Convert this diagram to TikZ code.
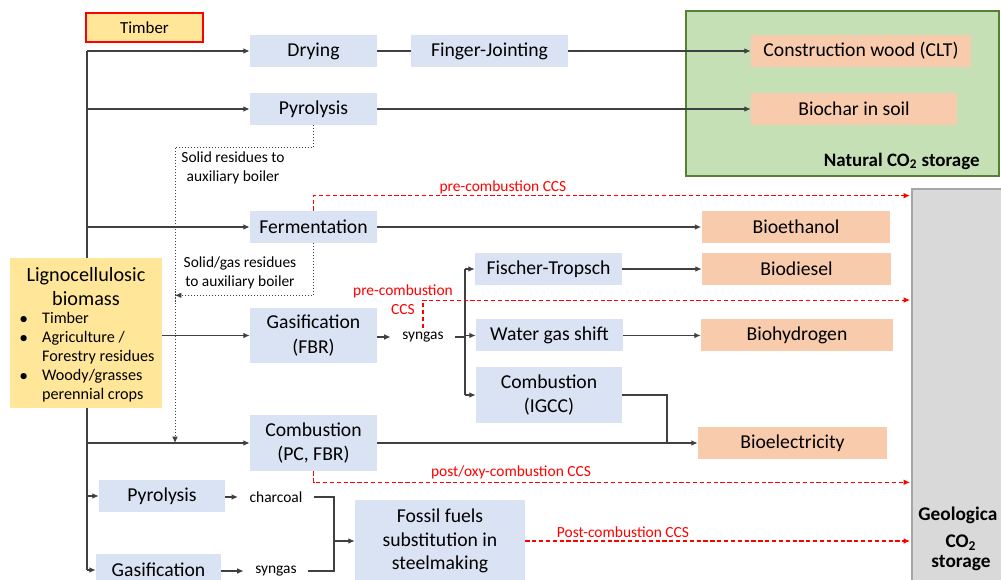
\documentclass[tikz,border=0pt]{standalone}
\usepackage{fontspec}
\setmainfont{Carlito}
\usetikzlibrary{arrows.meta, positioning}

\definecolor{procblue}{HTML}{DAE3F3}
\definecolor{prodorange}{HTML}{F8CBAD}
\definecolor{bioyellow}{HTML}{FFE699}
\definecolor{natgreen}{HTML}{C5E0B4}
\definecolor{natborder}{HTML}{548235}
\definecolor{geogray}{HTML}{D9D9D9}
\definecolor{geoborder}{HTML}{A6A6A6}
\definecolor{linegray}{HTML}{404040}

\newcommand{\lbul}{{\fontsize{10}{10.8}\selectfont\raisebox{-0.3pt}{•}}}

\begin{document}
\begin{tikzpicture}[
    x=0.02cm, y=-0.02cm,
    proc/.style={fill=procblue, inner sep=0pt, minimum height=0.64cm, align=center, font=\fontsize{11.2}{14}\selectfont},
    prod/.style={fill=prodorange, inner sep=0pt, minimum height=0.64cm, minimum width=3.78cm, font=\fontsize{11.2}{14}\selectfont},
    small/.style={font=\fontsize{8.8}{10.8}\selectfont, align=center, inner sep=0pt},
    inter/.style={font=\fontsize{8.8}{10.8}\selectfont, inner xsep=6.5pt, inner ysep=2pt},
    ccslabel/.style={font=\fontsize{8.8}{10.8}\selectfont, text=red, align=center, inner sep=0pt},
    flow/.style={draw=linegray, line width=0.6pt},
    arr/.style={flow, -{Latex[length=3.6pt,width=3.2pt]}},
    resid/.style={draw=linegray, line width=0.5pt, dash pattern=on 0.6pt off 1.1pt, -{Latex[length=3.6pt,width=3.2pt]}},
    ccs/.style={draw=red, line width=0.6pt, dash pattern=on 2.4pt off 1.5pt, -{Latex[length=3.6pt,width=3.2pt]}}
]

\useasboundingbox (0,0) rectangle (1001,580);
\clip (0,0) rectangle (1001,580);

% storage areas
\fill[natgreen] (686,11) rectangle (999,176);
\draw[natborder, line width=0.8pt] (686,11) rectangle (999,176);
\node[anchor=east, inner sep=0pt, font=\bfseries\fontsize{10.8}{13}\selectfont] (natlabel) at (980,161) {Natural CO\textsubscript{2} storage};

\fill[geogray] (912,189) rectangle (1001,580);
\draw[geoborder, line width=1pt] (912,580) -- (912,189) -- (1001,189);
\node[anchor=west, inner sep=0pt, font=\bfseries\fontsize{11}{13}\selectfont] (geolabel) at (918,515) {Geologica};
\node[align=center, inner sep=0pt, font=\bfseries\fontsize{11}{11.5}\selectfont] (geolabelb) at (961,553) {CO\textsubscript{2}\\storage};

\node[fill=bioyellow, draw=red, line width=0.6pt, minimum width=2.34cm, minimum height=0.58cm, inner sep=0pt, font=\fontsize{9.6}{11}\selectfont] (timber) at (144.5,27.5) {Timber};

\node[proc, minimum width=2.54cm] (drying) at (313.5,51) {Drying};
\node[proc, minimum width=3.14cm] (finger) at (489.5,51) {Finger-Jointing};
\node[prod, minimum width=4.4cm] (clt) at (861,51) {Construction wood (CLT)};
\node[proc, minimum width=2.54cm] (pyro) at (313.5,109) {Pyrolysis};
\node[prod, minimum width=4.12cm] (biochar) at (854,109) {Biochar in soil};

\node[proc, minimum width=2.54cm] (ferm) at (313.5,227) {Fermentation};
\node[prod] (bioeth) at (796,227) {Bioethanol};

\node[fill=bioyellow, minimum width=3.04cm, minimum height=3cm] (ligno) at (86,333) {};
\node[align=center, inner sep=0pt, font=\fontsize{11.5}{13.6}\selectfont] (lignotitle) at (86,287) {Lignocellulosic\\biomass};
\node[anchor=west, inner sep=0pt, font=\fontsize{9.2}{10.8}\selectfont] (lignolist) at (19,358) {%
  \begin{tabular}{@{}p{13pt}@{}l@{}}
  \lbul & Timber\\
  \lbul & Agriculture /\\
    & Forestry residues\\
  \lbul & Woody/grasses\\
    & perennial crops
  \end{tabular}};

\node[proc, minimum width=2.94cm] (fischer) at (548.5,269) {Fischer-Tropsch};
\node[prod] (biodiesel) at (796.5,269) {Biodiesel};
\node[proc, minimum width=2.54cm, minimum height=1.1cm] (gasi) at (313.5,335.5) {Gasification\\(FBR)};
\node[inter] (syngasa) at (423,337) {syngas};
\node[proc, minimum width=2.94cm] (wgs) at (549.5,335.5) {Water gas shift};
\node[prod, minimum width=3.84cm] (biohyd) at (797,335.5) {Biohydrogen};
\node[proc, minimum width=2.92cm, minimum height=1.12cm] (igcc) at (549,395) {Combustion\\(IGCC)};

\node[prod] (bioelec) at (792.5,443) {Bioelectricity};
\node[proc, minimum width=2.54cm, minimum height=1.12cm] (comb) at (313.5,443) {Combustion\\(PC, FBR)};

\node[proc, minimum width=2.52cm] (pyrob) at (162,496) {Pyrolysis};
\node[inter] (charcoal) at (276,497) {charcoal};
\node[proc, minimum width=2.5cm] (gasib) at (158.5,570) {Gasification};
\node[inter] (syngasb) at (276,571) {syngas};
\node[proc, minimum width=3.4cm, minimum height=1.64cm, font=\fontsize{11.2}{13.4}\selectfont] (fossil) at (440,541) {Fossil fuels\\substitution in\\steelmaking};

\coordinate (trunk) at (87,0);
\coordinate (resx) at (175,0);
\coordinate (split) at (465,0);
\coordinate (join) at (667,0);
\coordinate (merge) at (334,0);
\coordinate (geo) at (910,0);

\draw[flow] (trunk |- drying) -- (trunk |- ligno.north);
\draw[flow] (trunk |- ligno.south) -- (trunk |- gasib);
\draw[arr] (trunk |- drying) -- (drying);
\draw[arr] (trunk |- pyro) -- (pyro);
\draw[arr] (trunk |- ferm) -- (ferm);
\draw[arr] (trunk |- comb) -- (comb);
\draw[arr] (trunk |- pyrob) -- (pyrob);
\draw[arr] (trunk |- gasib) -- (gasib);
\draw[arr] (ligno.east |- gasi) -- (gasi);

\draw[flow] (drying) -- (finger);
\draw[arr] (finger) -- (clt);
\draw[arr] (pyro) -- (biochar);
\draw[arr] (ferm) -- (bioeth);
\draw[arr] (fischer) -- (biodiesel);
\draw[arr] (wgs) -- (biohyd);
\draw[arr] (comb) -- (bioelec);
\draw[flow] (igcc) -| (join |- bioelec);

\draw[arr] (gasi.east |- syngasa) -- (syngasa.west);
\draw[flow] (syngasa.east) -- (split |- syngasa);
\draw[flow] (split |- fischer) -- (split |- igcc);
\draw[arr] (split |- fischer) -- (fischer);
\draw[arr] (split |- wgs) -- (wgs);
\draw[arr] (split |- igcc) -- (igcc);

\draw[resid] (pyro.south) -- ++(0,22) coordinate (pd) -- (resx |- pd) -- (resx |- comb);
\node[small] (solidlbl) at (233,168) {Solid residues to\\auxiliary boiler};
\draw[resid] (ferm.south) -- ++(0,52) coordinate (fd) -- (resx |- fd);
\node[small] (gaslbl) at (240,273) {Solid/gas residues\\to auxiliary boiler};

\draw[ccs] (ferm.north) -- ++(0,-15) coordinate (cf) -- (geo |- cf);
\node[ccslabel] (ccsa) at (503,187) {pre-combustion CCS};
\draw[ccs] (syngasa.north) -- ++(0,-28) coordinate (cs) -- (geo |- cs);
\node[ccslabel] (ccsb) at (403,300) {pre-combustion\\CCS};
\draw[ccs] (comb.south) -- ++(0,11) coordinate (cc) -- (geo |- cc);
\node[ccslabel] (ccsc) at (511,472) {post/oxy-combustion CCS};
\draw[ccs] (fossil) -- (geo |- fossil);
\node[ccslabel] (ccsd) at (623,532) {Post-combustion CCS};

\draw[arr] (pyrob.east |- charcoal) -- (charcoal.west);
\draw[arr] (gasib.east |- syngasb) -- (syngasb.west);
\draw[flow] (charcoal.east) -| (merge |- syngasb) -- (syngasb.east);
\draw[arr] (merge |- fossil) -- (fossil);

\end{tikzpicture}
\end{document}
